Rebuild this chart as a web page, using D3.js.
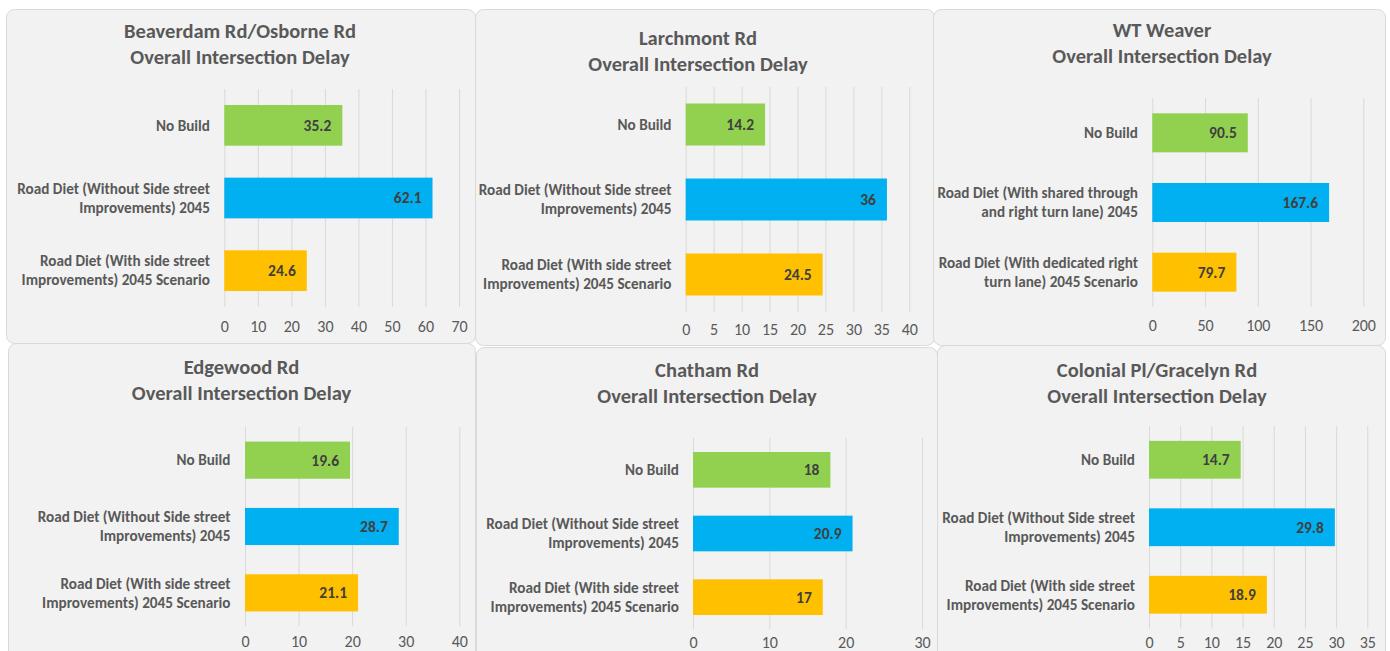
<!DOCTYPE html>
<html>
<head>
<meta charset="utf-8">
<script src="https://cdn.jsdelivr.net/npm/d3@7"></script>
<style>
  body { margin: 0; background: #ffffff; }
  svg { display: block; font-family: Carlito, Lato, sans-serif; }
</style>
</head>
<body>
<script>
var width = 1390;
var height = 651;

// chart data
var titles = [
    "Beaverdam Rd/Osborne Rd",
    "Larchmont Rd",
    "WT Weaver",
    "Edgewood Rd",
    "Chatham Rd",
    "Colonial Pl/Gracelyn Rd"
];
var subtitle = "Overall Intersection Delay";

var categories = [
    "No Build",
    "Road Diet (Without Side street\nImprovements) 2045",
    "Road Diet (With side street\nImprovements) 2045 Scenario"
];
var weaverCategories = [
    "No Build",
    "Road Diet (With shared through\nand right turn lane) 2045",
    "Road Diet (With dedicated right\nturn lane) 2045 Scenario"
];

var beaverdamValues = [35.2, 62.1, 24.6];
var larchmontValues = [14.2, 36, 24.5];
var weaverValues = [90.5, 167.6, 79.7];
var edgewoodValues = [19.6, 28.7, 21.1];
var chathamValues = [18, 20.9, 17];
var colonialValues = [14.7, 29.8, 18.9];

var axisMax = [70, 40, 200, 40, 30, 35];
var tickStep = [10, 5, 50, 10, 10, 5];

var barColors = ["#92D050", "#00B0F0", "#FFC000"];

var charts = [
    { cats: categories, values: beaverdamValues },
    { cats: categories, values: larchmontValues },
    { cats: weaverCategories, values: weaverValues },
    { cats: categories, values: edgewoodValues },
    { cats: categories, values: chathamValues },
    { cats: categories, values: colonialValues }
];

// panel placement in the collage
var layout = [
    { px: 6,   py: 9,   pw: 469, ph: 334, tx: 240,  ty: 31,  x0: 224.3,  x1: 459,    top: 89,  bottom: 307,   lx: 210,   tickY: 326 },
    { px: 475, py: 9,   pw: 459, ph: 336, tx: 698,  ty: 38,  x0: 685.7,  x1: 909.3,  top: 87,  bottom: 312,   lx: 671.5, tickY: 329 },
    { px: 933, py: 9,   pw: 452, ph: 336, tx: 1162, ty: 30,  x0: 1152.3, x1: 1363.3, top: 98,  bottom: 307,   lx: 1138,  tickY: 325 },
    { px: 8,   py: 343, pw: 467, ph: 330, tx: 241.5,ty: 367, x0: 245,    x1: 459.3,  top: 427, bottom: 626,   lx: 230.5, tickY: 641 },
    { px: 476, py: 347, pw: 461, ph: 330, tx: 707,  ty: 370, x0: 693,    x1: 922,    top: 438, bottom: 629,   lx: 679,   tickY: 642 },
    { px: 937, py: 345, pw: 448, ph: 330, tx: 1157, ty: 370, x0: 1149,   x1: 1367.3, top: 426, bottom: 628.5, lx: 1135,  tickY: 642 }
];

var svg = d3.select("body").append("svg")
    .attr("width", width)
    .attr("height", height);

charts.forEach(function (chart, i) {
    var L = layout[i];
    var g = svg.append("g").attr("class", "panel");

    g.append("rect")
        .attr("x", L.px + 0.5)
        .attr("y", L.py + 0.5)
        .attr("width", L.pw)
        .attr("height", L.ph)
        .attr("rx", 8)
        .attr("fill", "#f2f2f2")
        .attr("stroke", "#d9d9d9");

    // title
    var title = g.append("text")
        .attr("text-anchor", "middle")
        .attr("fill", "#595959")
        .attr("font-weight", "bold")
        .attr("font-size", 20.5);
    title.append("tspan").attr("x", L.tx).attr("y", L.ty + 7).text(titles[i]);
    title.append("tspan").attr("x", L.tx).attr("y", L.ty + 33).text(subtitle);

    var x = d3.scaleLinear().domain([0, axisMax[i]]).range([L.x0, L.x1]);
    var y = d3.scaleBand().domain(chart.cats).range([L.top, L.bottom])
        .paddingInner(0.44).paddingOuter(0.22);

    var ticks = d3.range(0, axisMax[i] + tickStep[i] / 2, tickStep[i]);

    // gridlines + tick labels via axis
    var axis = g.append("g")
        .attr("transform", "translate(0," + L.bottom + ")")
        .call(d3.axisBottom(x).tickValues(ticks).tickSize(-(L.bottom - L.top)).tickPadding(0));
    axis.select(".domain").remove();
    axis.selectAll(".tick line").attr("stroke", "#d9d9d9");
    axis.selectAll(".tick text")
        .attr("y", L.tickY - L.bottom)
        .attr("dy", "0.35em")
        .attr("fill", "#595959")
        .attr("font-size", 16)
        .attr("font-family", "Carlito, Lato, sans-serif");

    // bars
    g.selectAll(".bar")
        .data(chart.values)
        .enter()
        .append("rect")
        .attr("class", "bar")
        .attr("x", x(0))
        .attr("y", function (d, j) { return y(chart.cats[j]); })
        .attr("width", function (d) { return x(d) - x(0); })
        .attr("height", y.bandwidth())
        .attr("fill", function (d, j) { return barColors[j]; });

    // value labels
    g.selectAll(".val")
        .data(chart.values)
        .enter()
        .append("text")
        .attr("class", "val")
        .attr("x", function (d) { return x(d) - 11; })
        .attr("y", function (d, j) { return y(chart.cats[j]) + y.bandwidth() / 2; })
        .attr("dy", "0.35em")
        .attr("text-anchor", "end")
        .attr("font-weight", "bold")
        .attr("font-size", 15.5)
        .attr("fill", "#404040")
        .text(function (d) { return d; });

    // category labels
    chart.cats.forEach(function (c, j) {
        var lines = c.split("\n");
        var cy = y(c) + y.bandwidth() / 2;
        var t = g.append("text")
            .attr("text-anchor", "end")
            .attr("font-weight", "bold")
            .attr("font-size", 15.2)
            .attr("fill", "#595959");
        lines.forEach(function (line, k) {
            t.append("tspan")
                .attr("x", L.lx)
                .attr("y", cy + (k - (lines.length - 1) / 2) * 19)
                .attr("dy", "0.35em")
                .text(line);
        });
    });
});
</script>
</body>
</html>
